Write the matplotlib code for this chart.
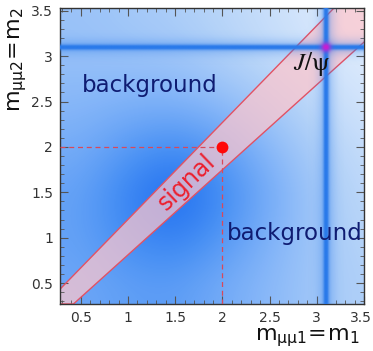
import matplotlib
matplotlib.use('Agg')

import numpy as np
import matplotlib.pyplot as plt
import matplotlib.transforms as mtransforms
from matplotlib.colors import LinearSegmentedColormap
from matplotlib.ticker import MultipleLocator, FormatStrFormatter

# axis ranges (GeV)
x_range = (0.28, 3.5)
y_range = (0.27, 3.53)

# background continuum (0 = pale, 1 = deep blue)
# rows: m2 = 0.5 .. 3.5, columns: m1 = 0.5 .. 3.5
grid_m = [0.5, 1.0, 1.5, 2.0, 2.5, 3.0, 3.5]
continuum = [
    [0.58, 0.64, 0.66, 0.55, 0.45, 0.35, 0.28],
    [0.62, 0.78, 0.86, 0.70, 0.50, 0.35, 0.25],
    [0.62, 0.84, 1.00, 0.80, 0.55, 0.35, 0.22],
    [0.54, 0.68, 0.78, 0.65, 0.45, 0.30, 0.18],
    [0.46, 0.50, 0.50, 0.43, 0.32, 0.22, 0.12],
    [0.40, 0.38, 0.36, 0.29, 0.21, 0.14, 0.08],
    [0.38, 0.34, 0.30, 0.24, 0.17, 0.10, 0.04],
]

# J/psi resonance
jpsi_mass = 3.1
jpsi_core_width = 0.02
jpsi_halo_width = 0.065

# signal region |m1 - m2| < band_const + band_slope * (m1 + m2) / 2
band_const = 0.13
band_slope = 0.065

signal_point = (2.0, 2.0)

fig = plt.figure(figsize=(3.73, 3.51), dpi=100)
ax = fig.add_axes([60 / 373, 47 / 351, 304 / 373, 296 / 351])

cmap = LinearSegmentedColormap.from_list(
    'bg', ['#eef5fe', '#b8d5f9', '#7fb2f8', '#4890f4', '#1869f0'],
)
step = grid_m[1] - grid_m[0]
ext = [grid_m[0] - step / 2, grid_m[-1] + step / 2,
       grid_m[0] - step / 2, grid_m[-1] + step / 2]
ax.imshow(np.array(continuum), origin='lower', extent=ext, cmap=cmap,
          vmin=0, vmax=1, interpolation='bicubic', aspect='auto', zorder=0)

# signal band
m = np.linspace(0.0, 4.0, 50)
a = 1 + band_slope / 2
b = 1 - band_slope / 2
upper = (a * m + band_const) / b
xl0, yl0 = x_range[0], y_range[0]
up_x = np.concatenate([[xl0, xl0], m[m > xl0]])
up_y = np.concatenate([[yl0, (a * xl0 + band_const) / b], upper[m > xl0]])
lo_m = m[m > yl0][::-1]
lo_x = np.concatenate([(a * lo_m + band_const) / b, [(a * yl0 + band_const) / b]])
lo_y = np.concatenate([lo_m, [yl0]])
poly_x = np.concatenate([up_x, lo_x])
poly_y = np.concatenate([up_y, lo_y])
ax.fill(poly_x, poly_y, facecolor='#ffc6cc', alpha=0.72, edgecolor='none', zorder=1)
ax.plot(np.append(poly_x, poly_x[0]), np.append(poly_y, poly_y[0]),
        color='#e25264', lw=1.0, zorder=2)

# J/psi stripes
fine = np.linspace(0.2, 3.6, 700)
dx = fine - jpsi_mass
prof = np.clip(0.85 * np.exp(-0.5 * (dx / jpsi_core_width) ** 2)
               + 0.3 * np.exp(-0.5 * (dx / jpsi_halo_width) ** 2), 0, 1)
alpha = 1 - (1 - prof[None, :]) * (1 - prof[:, None])
rgba = np.zeros((len(fine), len(fine), 4))
rgba[..., 0] = 42 / 255
rgba[..., 1] = 122 / 255
rgba[..., 2] = 234 / 255
rgba[..., 3] = alpha
ax.imshow(rgba, origin='lower', extent=[fine[0], fine[-1], fine[0], fine[-1]],
          aspect='auto', interpolation='bilinear', zorder=3)

# magenta spot at the J/psi crossing
spot = np.exp(-0.5 * ((fine[None, :] - jpsi_mass) ** 2 + (fine[:, None] - jpsi_mass) ** 2) / 0.035 ** 2)
rgba2 = np.zeros_like(rgba)
rgba2[..., 0] = 200 / 255
rgba2[..., 1] = 30 / 255
rgba2[..., 2] = 210 / 255
rgba2[..., 3] = np.clip(1.1 * spot, 0, 1)
ax.imshow(rgba2, origin='lower', extent=[fine[0], fine[-1], fine[0], fine[-1]],
          aspect='auto', interpolation='bilinear', zorder=4)

# dashed guide lines and the signal point
sx, sy = signal_point
ax.plot([x_range[0], sx], [sy, sy], ls=(0, (4, 3)), color='#d9485a', lw=0.9, zorder=5)
ax.plot([sx, sx], [y_range[0], sy], ls=(0, (4, 3)), color='#d9485a', lw=0.9, zorder=5)
ax.plot(sx, sy, 'o', color='#ff0808', ms=8.5, mec='none', zorder=6)

ax.text(0.51, 2.68, 'background', color='#0f1c72', fontsize=16.5,
        ha='left', va='center', zorder=7)
ax.text(2.05, 1.05, 'background', color='#0f1c72', fontsize=16.5,
        ha='left', va='center', zorder=7)
ax.text(1.62, 1.61, 'signal', color='#ec1f2e', fontsize=17, rotation=43.8,
        rotation_mode='anchor', ha='center', va='center', zorder=7)
ax.text(2.95, 2.91, r'$J/\mathrm{ψ}$', color='#111111', fontsize=18,
        math_fontfamily='stix', ha='center', va='center', zorder=7)

ax.set_xlim(*x_range)
ax.set_ylim(*y_range)
for axis in (ax.xaxis, ax.yaxis):
    axis.set_major_locator(MultipleLocator(0.5))
    axis.set_minor_locator(MultipleLocator(0.1))
    axis.set_major_formatter(FormatStrFormatter('%g'))
ax.tick_params(which='both', direction='in', top=True, right=True,
               colors='#555555', labelcolor='#333333', labelsize=10)
ax.tick_params(which='major', length=6, width=0.8, pad=5)
ax.tick_params(which='minor', length=3, width=0.6)
for s in ax.spines.values():
    s.set_color('#333333')
    s.set_linewidth(1.0)

# keep the last x tick label inside the figure
fig.canvas.draw()
last = [t for t in ax.get_xticklabels() if t.get_text() == '3.5']
for t in last:
    t.set_transform(t.get_transform()
                    + mtransforms.ScaledTranslation(-3 / 100, 0, fig.dpi_scale_trans))

fig.text(360 / 373, 2 / 351, r'$\mathregular{m_{\mu\mu1}\!=\!m_1}$', fontsize=16,
         ha='right', va='bottom', color='#111111')
fig.text(6 / 373, 1 - 8 / 351, r'$\mathregular{m_{\mu\mu2}\!=\!m_2}$', fontsize=16,
         ha='left', va='top', rotation=90, color='#111111')

fig.savefig('out.png', dpi=100)
